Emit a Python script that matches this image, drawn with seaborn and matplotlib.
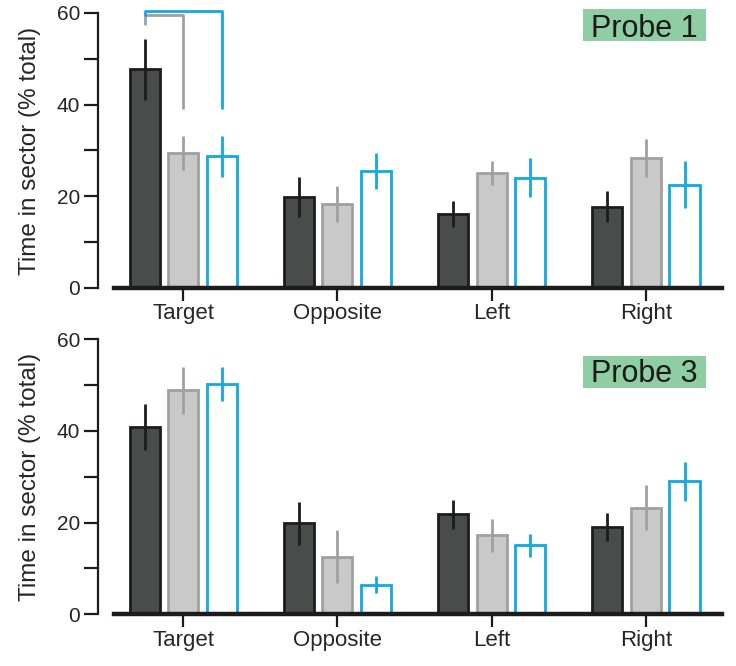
import numpy as np
import matplotlib.pyplot as plt
from matplotlib.patches import Rectangle
import pandas as pd
import seaborn as sns

# values (mean, +/- error)
sectors = ["Target", "Opposite", "Left", "Right"]
groups = ["Group 1", "Group 2", "Group 3"]

probe1_mean = {"Group 1": [47.7, 19.9, 16.1, 17.7],
               "Group 2": [29.4, 18.3, 25.0, 28.4],
               "Group 3": [28.7, 25.6, 24.1, 22.5]}
probe1_err = {"Group 1": [6.6, 4.4, 2.9, 3.4],
              "Group 2": [3.7, 4.0, 2.6, 4.2],
              "Group 3": [4.4, 3.9, 4.3, 5.1]}

probe3_mean = {"Group 1": [40.9, 19.9, 21.8, 19.1],
               "Group 2": [48.9, 12.6, 17.2, 23.3],
               "Group 3": [50.2, 6.5, 15.1, 29.0]}
probe3_err = {"Group 1": [5.0, 4.7, 3.2, 3.0],
              "Group 2": [5.1, 5.8, 3.7, 5.0],
              "Group 3": [3.7, 1.8, 2.5, 4.2]}

fills = {"Group 1": "#474d4c", "Group 2": "#c9c9c9", "Group 3": "#ffffff"}
edges = {"Group 1": "#1c1c1c", "Group 2": "#a0a0a0", "Group 3": "#12a9e0"}
box_green = "#8fcda2"

sns.set_style("ticks")
plt.rcParams['font.family'] = ['Liberation Sans', 'DejaVu Sans']


def to_frame(means):
    rows = []
    for g in groups:
        for s, v in zip(sectors, means[g]):
            rows.append({"sector": s, "group": g, "value": v})
    return pd.DataFrame(rows)


def draw_panel(ax, means, errs, label, box_bottom, baseline):
    df = to_frame(means)
    sns.barplot(data=df, x="sector", y="value", hue="group", order=sectors,
                hue_order=groups, palette=fills, width=0.75, gap=0.22,
                errorbar=None, legend=False, ax=ax)
    for cont, g in zip(ax.containers, groups):
        xs = []
        for bar in cont:
            bar.set_edgecolor(edges[g])
            bar.set_linewidth(2.0)
            xs.append(bar.get_x() + bar.get_width() / 2)
        ax.errorbar(xs, means[g], yerr=errs[g], fmt="none", ecolor=edges[g],
                    elinewidth=2.0, capsize=0, zorder=5)

    ax.set_xlim(-0.552, 3.494)
    ax.set_ylim(0, 60)
    ax.set_yticks([0, 20, 40, 60])
    ax.set_yticks([10, 30, 50], minor=True)
    ax.set_xlabel("")
    ax.set_ylabel("Time in sector (% total)", fontsize=17.5, labelpad=11)
    sns.despine(ax=ax)
    ax.spines["left"].set_linewidth(1.6)
    ax.spines["left"].set_color("#1c1c1c")
    ax.spines["bottom"].set_linewidth(3.2)
    ax.spines["bottom"].set_color("#1c1c1c")
    ax.spines["bottom"].set_bounds(-0.448, 3.494)
    ax.tick_params(axis="y", which="both", length=10, width=1.6,
                   color="#1c1c1c", labelsize=15, pad=3)
    ax.tick_params(axis="x", length=9, width=1.6, color="#1c1c1c",
                   labelsize=16, pad=2)

    # green label box
    ax.add_patch(Rectangle((0.7765, box_bottom), 0.197, 0.1164,
                           transform=ax.transAxes, fc=box_green, ec="none",
                           clip_on=False, zorder=7))
    ax.text(0.875, baseline, label, transform=ax.transAxes, fontsize=22,
            ha="center", va="baseline", color="#1a1a1a", zorder=8)


fig = plt.figure(figsize=(7.36, 6.66), dpi=100)
ax1 = fig.add_axes([0.1332, 0.5676, 0.848, 0.4129])
ax2 = fig.add_axes([0.1332, 0.0776, 0.848, 0.4129])

draw_panel(ax1, probe1_mean, probe1_err, "Probe 1", 0.898, 0.914)
draw_panel(ax2, probe3_mean, probe3_err, "Probe 3", 0.824, 0.846)

# significance brackets on probe 1, Target
ax1.plot([-0.25, -0.25, 0.0, 0.0], [57.6, 59.6, 59.6, 39.3],
         color=edges["Group 2"], lw=2.0, clip_on=False, zorder=6)
ax1.plot([-0.25, -0.25, 0.25, 0.25], [59.6, 60.5, 60.5, 39.3],
         color=edges["Group 3"], lw=2.0, clip_on=False, zorder=6)

fig.savefig("out.png", dpi=100)
